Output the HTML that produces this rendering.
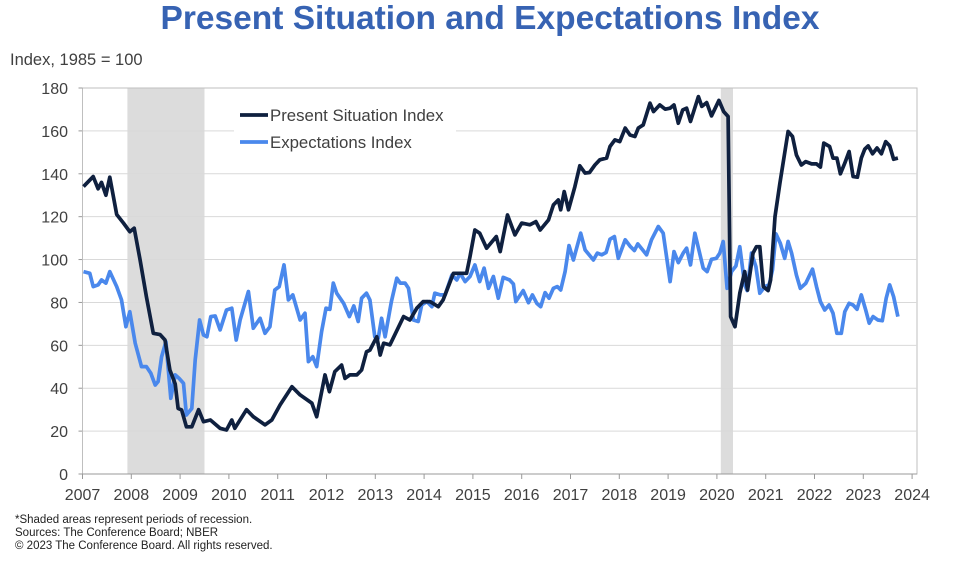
<!DOCTYPE html>
<html><head><meta charset="utf-8"><style>
body{margin:0;background:#fff;width:958px;height:578px;overflow:hidden;font-family:"Liberation Sans",Arial,sans-serif}
svg{display:block}
</style></head><body>
<svg width="958" height="578" font-family="Liberation Sans, Arial, sans-serif">
<text x="490" y="29" text-anchor="middle" font-size="33.5" font-weight="bold" fill="#3763b3">Present Situation and Expectations Index</text>
<text x="10" y="65" font-size="16.5" fill="#404040">Index, 1985 = 100</text>
<g id="plot"></g>
<g font-size="11.5" fill="#222">
<text x="15" y="523">*Shaded areas represent periods of recession.</text>
<text x="15" y="536">Sources: The Conference Board; NBER</text>
<text x="15" y="549">© 2023 The Conference Board. All rights reserved.</text>
</g>
</svg>
<script>
const yTicks=[0,20,40,60,80,100,120,140,160,180];
const xYears=[2007,2008,2009,2010,2011,2012,2013,2014,2015,2016,2017,2018,2019,2020,2021,2022,2023,2024];
const recessions=[[2007.92,2009.5],[2020.08,2020.33]];
const psiDates=[2007.02,2007.22,2007.32,2007.39,2007.48,2007.56,2007.70,2007.84,2007.97,2008.06,2008.18,2008.31,2008.45,2008.59,2008.69,2008.79,2008.90,2008.96,2009.03,2009.13,2009.24,2009.38,2009.48,2009.62,2009.82,2009.95,2010.06,2010.12,2010.36,2010.50,2010.74,2010.88,2011.05,2011.29,2011.46,2011.70,2011.80,2011.97,2012.06,2012.17,2012.31,2012.38,2012.48,2012.62,2012.72,2012.82,2012.89,2013.03,2013.10,2013.17,2013.30,2013.58,2013.71,2013.85,2013.98,2014.12,2014.29,2014.39,2014.60,2014.73,2014.87,2014.94,2015.04,2015.14,2015.28,2015.48,2015.56,2015.71,2015.86,2016.0,2016.17,2016.29,2016.38,2016.55,2016.65,2016.75,2016.80,2016.87,2016.96,2017.09,2017.19,2017.30,2017.39,2017.50,2017.60,2017.74,2017.81,2017.91,2018.01,2018.12,2018.22,2018.32,2018.39,2018.49,2018.63,2018.70,2018.83,2018.94,2019.04,2019.12,2019.21,2019.30,2019.38,2019.46,2019.62,2019.69,2019.79,2019.89,2020.04,2020.14,2020.23,2020.28,2020.37,2020.47,2020.57,2020.63,2020.74,2020.81,2020.88,2020.95,2021.05,2021.10,2021.19,2021.29,2021.46,2021.55,2021.63,2021.73,2021.82,2021.94,2022.04,2022.12,2022.19,2022.31,2022.38,2022.46,2022.53,2022.62,2022.71,2022.79,2022.88,2022.96,2023.03,2023.10,2023.19,2023.28,2023.37,2023.46,2023.54,2023.62,2023.71];
const psiValues=[134,138.7,133,136,130,138.4,121,117,113,114.6,99.8,82.7,65.6,65,62.5,48.5,42,30.6,29.9,22,22,30,24.4,25.2,21.3,20.5,25.2,21.3,30,26.7,22.9,25.2,32.2,40.7,36.9,33,26.7,46.2,38.4,47.7,50.8,44.6,46.2,46.2,48.5,57,57.8,64,55.5,61,60.2,73.4,71.8,77.3,80.4,80.4,78,81.2,93.6,93.6,93.6,101.4,113.8,112.3,105.3,110.7,103.7,120.8,111.5,117,116.2,117.7,113.8,118.5,125.5,127.8,123.2,131.7,123.2,134,143.7,140.3,140.6,144.1,146.5,147.3,152.7,155.8,155,161.3,158.1,157.4,161.3,162.8,172.9,169,172.1,170.1,170.6,172.1,163.6,169.8,170.6,164.4,176,171.4,173.2,167,174.2,169,166.7,73.4,68.7,84.3,94.4,85.8,103,106,106,87.4,85.5,90.5,120,135.6,159.7,157.4,148.8,144.1,145.7,144.6,144.6,143.1,154.3,152.7,147.3,147.3,140,145,150.4,138.7,138.4,147.3,151.5,153,149.3,152,149.3,155,153,146.8,147.3];
const expDates=[2007.02,2007.15,2007.22,2007.32,2007.39,2007.48,2007.56,2007.70,2007.80,2007.89,2007.97,2008.08,2008.21,2008.31,2008.40,2008.49,2008.55,2008.62,2008.71,2008.81,2008.90,2008.98,2009.07,2009.13,2009.24,2009.31,2009.40,2009.48,2009.55,2009.63,2009.72,2009.82,2009.95,2010.06,2010.15,2010.23,2010.40,2010.50,2010.64,2010.74,2010.84,2010.94,2011.03,2011.13,2011.22,2011.31,2011.46,2011.56,2011.63,2011.72,2011.80,2011.90,2011.99,2012.07,2012.14,2012.21,2012.35,2012.47,2012.56,2012.65,2012.72,2012.82,2012.89,2012.99,2013.06,2013.13,2013.20,2013.33,2013.44,2013.51,2013.61,2013.68,2013.78,2013.88,2013.95,2014.06,2014.16,2014.22,2014.33,2014.43,2014.57,2014.67,2014.74,2014.84,2014.94,2015.04,2015.14,2015.23,2015.32,2015.42,2015.52,2015.62,2015.75,2015.83,2015.88,2016.03,2016.14,2016.22,2016.31,2016.39,2016.48,2016.56,2016.65,2016.73,2016.80,2016.89,2016.97,2017.06,2017.21,2017.30,2017.47,2017.55,2017.64,2017.73,2017.81,2017.90,2017.98,2018.12,2018.23,2018.31,2018.38,2018.56,2018.66,2018.80,2018.90,2019.04,2019.12,2019.21,2019.31,2019.38,2019.46,2019.55,2019.72,2019.80,2019.89,2019.99,2020.06,2020.13,2020.21,2020.30,2020.39,2020.47,2020.57,2020.62,2020.71,2020.80,2020.88,2020.98,2021.07,2021.14,2021.21,2021.30,2021.39,2021.46,2021.53,2021.63,2021.71,2021.82,2021.96,2022.04,2022.12,2022.21,2022.30,2022.38,2022.46,2022.55,2022.62,2022.71,2022.79,2022.87,2022.96,2023.05,2023.12,2023.20,2023.30,2023.39,2023.47,2023.54,2023.62,2023.71];
const expValues=[94.4,93.6,87.4,88.2,90.5,89,94.4,87.4,81.2,68.7,75.7,61,50.1,50.1,47,41.5,43.1,54.7,61.7,35.3,46.2,44.6,42.3,27.5,30.6,53.2,71.8,64.8,64,73.4,73.7,67.2,76.5,77.3,62.5,71.8,85.1,68,72.6,65.6,68.7,85.8,87.4,97.5,81.2,83.5,71.8,75,52.4,54.7,50.1,66.4,77.3,76.8,89,84.3,79.6,73.4,78.4,71.1,82,84.3,81.2,64,63.3,72.6,64,80.4,91.3,89,89,86.6,71.8,71.1,78.8,80.4,78,84.3,83.5,83.5,92.8,90.5,93.6,89.7,92.1,97.5,89.7,96,86.6,92.1,82,91.7,90.5,88.6,80.4,85.5,79.9,83.5,79.6,78,84.6,82,86.6,87.4,85.8,94.4,106.5,99.8,112.3,104.5,99.8,103,102.2,103.3,109.5,110.7,100.6,109.2,106,104.2,107.3,102.2,109.2,115.4,112.3,89.7,103.7,98.6,103,105.3,97.5,112.3,96,94.4,100.1,100.6,103,108.4,86.6,94.4,97,106,88.2,85.5,103,96.7,84.3,87.4,88.2,95.2,112,107.6,100.6,108.4,103,92.8,86.6,88.9,95.5,87.4,80.4,76.5,78.8,75,65.6,65.6,75.7,79.6,78.8,76.8,83.5,76.5,70.3,73.4,71.8,71.5,82,88.2,82.7,73.4];

const NS='http://www.w3.org/2000/svg';
const L=82.5,R=917,T=88,B=474,X0=2007,YW=48.8;
const xs=d=>L+(d-X0)*YW;
const ys=v=>B-(v/180)*(B-T);
const plot=document.getElementById('plot');


function mk(tag,attrs,parent){const e=document.createElementNS(NS,tag);for(const k in attrs)e.setAttribute(k,attrs[k]);(parent||plot).appendChild(e);return e;}
const frame=mk('rect',{x:L,y:T,width:R-L,height:B-T,fill:'#fff',stroke:'#bfbfbf','stroke-width':1});


recessions.forEach(r=>{const e=mk('rect',{x:xs(r[0]),y:T+0.5,width:xs(r[1])-xs(r[0]),height:B-T-1,fill:'#dcdcdc'});

});
yTicks.forEach(v=>{
 if(v>0&&v<180){const g=mk('line',{x1:L,x2:R,y1:ys(v),y2:ys(v),stroke:'#d9d9d9','stroke-width':1});
 
 }
 const tk=mk('line',{x1:L-4,x2:L,y1:ys(v),y2:ys(v),stroke:'#999'});
 
 
 const t=mk('text',{x:68,y:ys(v)+6,'text-anchor':'end','font-size':16,fill:'#404040'});t.textContent=v;
 
 
});
const ax=mk('line',{x1:L,x2:R,y1:B,y2:B,stroke:'#999'});


xYears.forEach(y=>{
 const tk=mk('line',{x1:xs(y),x2:xs(y),y1:B,y2:B+5,stroke:'#999'});
 
 
 const t=mk('text',{x:xs(y),y:500,'text-anchor':'middle','font-size':16,fill:'#404040'});t.textContent=y;
 
 
});
function line(d,v,c,name){const p=d.map((x,i)=>(i?'L':'M')+xs(x).toFixed(1)+','+ys(v[i]).toFixed(1)).join('');
 const e=mk('path',{d:p,fill:'none',stroke:c,'stroke-width':3.7,'stroke-linejoin':'round'});
 
 }
line(expDates,expValues,'#4a88ec','expectations-index-line');
line(psiDates,psiValues,'#0f203f','present-situation-index-line');
const lg=mk('g',{});


mk('rect',{x:234,y:100,width:222,height:54,fill:'#fff'},lg);
[['Present Situation Index','#0f203f',115],['Expectations Index','#4a88ec',142]].forEach(e=>{
 const l=mk('line',{x1:240,x2:268,y1:e[2],y2:e[2],stroke:e[1],'stroke-width':3.7},lg);
 
 
 const t=mk('text',{x:270,y:e[2]+6,'font-size':16.8,fill:'#404040'},lg);t.textContent=e[0];
 
 
});
</script>
</body></html>
